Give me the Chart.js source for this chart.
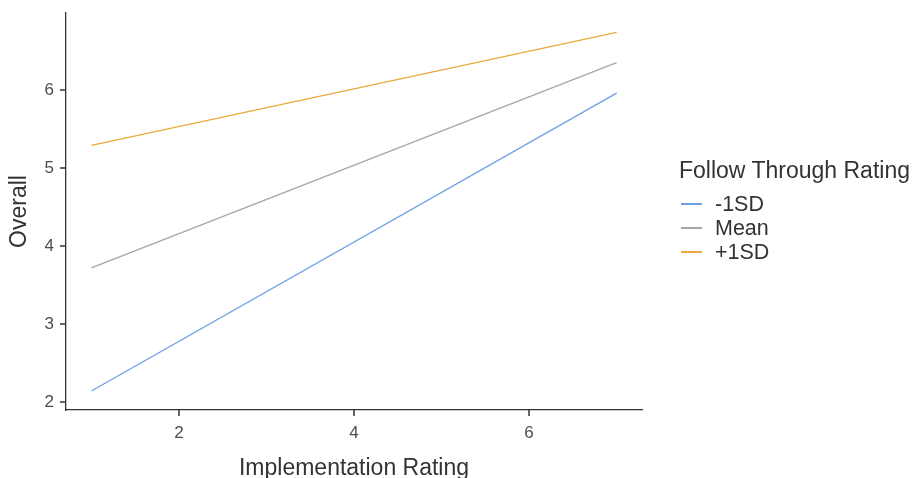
<!DOCTYPE html>
<html>
<head>
<meta charset="utf-8">
<script src="https://cdn.jsdelivr.net/npm/chart.js@4.4.0/dist/chart.umd.min.js"></script>
<style>
  body { margin: 0; background: #fff; }
  #wrap { position: relative; width: 912px; height: 478px; font-family: "Liberation Sans", Arial, sans-serif; }
  #legend { position: absolute; left: 679px; top: 157px; color: #333; white-space: nowrap; }
  #legend .title { font-size: 23px; margin-bottom: 8px; }
  #legend .item { height: 24px; display: flex; align-items: center; font-size: 21.5px; }
  #legend .swatch { width: 21px; height: 2px; margin-left: 2px; margin-right: 13px; }
</style>
</head>
<body>
<div id="wrap">
  <canvas id="myChart" width="912" height="478"></canvas>
  <div id="legend"><div class="title">Follow Through Rating</div></div>
</div>
<script>
// values
var xValues = [1, 7];
var lowSD = [2.14, 5.96];
var meanLine = [3.72, 6.35];
var highSD = [5.29, 6.74];
var seriesNames = ["-1SD", "Mean", "+1SD"];
var seriesColors = ["#6f9fe8", "#a6a6a6", "#e9a93b"];
var xTicks = [2, 4, 6];
var yTicks = [2, 3, 4, 5, 6];

function toPoints(vals) {
  return vals.map(function (v, i) { return { x: xValues[i], y: v }; });
}

var allSeries = [lowSD, meanLine, highSD];
var datasets = allSeries.map(function (s, i) {
  return {
    label: seriesNames[i],
    data: toPoints(s),
    borderColor: seriesColors[i],
    borderWidth: 1.3,
    pointRadius: 0,
    fill: false,
    tension: 0
  };
});

// html legend
var legend = document.getElementById("legend");
seriesNames.forEach(function (n, i) {
  var d = document.createElement("div");
  d.className = "item";
  d.innerHTML = '<span class="swatch" style="background:' + seriesColors[i] + '"></span>' + n;
  legend.appendChild(d);
});

var ctx = document.getElementById("myChart").getContext("2d");
var axisColor = "#333333";

// small outward tick marks, placed via the scales
var tickMarks = {
  id: "tickMarks",
  afterDraw: function (chart) {
    var c = chart.ctx, a = chart.chartArea;
    var xs = chart.scales.x, ys = chart.scales.y;
    c.save();
    c.strokeStyle = axisColor;
    c.lineWidth = 1.5;
    c.beginPath();
    xTicks.forEach(function (v) {
      var px = Math.round(xs.getPixelForValue(v));
      c.moveTo(px, a.bottom);
      c.lineTo(px, a.bottom + 6);
    });
    yTicks.forEach(function (v) {
      var py = Math.round(ys.getPixelForValue(v));
      c.moveTo(a.left, py);
      c.lineTo(a.left - 6, py);
    });
    c.stroke();
    c.restore();
  }
};

function noEdgePadding(scale) {
  scale.paddingTop = 0;
  scale.paddingBottom = 0;
  scale.paddingLeft = 0;
  scale.paddingRight = 0;
}

var myNewChart = new Chart(ctx, {
  type: "line",
  data: { datasets: datasets },
  plugins: [tickMarks],
  options: {
    responsive: false,
    animation: false,
    layout: { padding: { left: 0, top: 13, right: 270, bottom: 0 } },
    plugins: { legend: { display: false }, tooltip: { enabled: false } },
    scales: {
      x: {
        type: "linear",
        min: 0.71,
        max: 7.29,
        afterFit: function (scale) { scale.height = 68; noEdgePadding(scale); },
        afterBuildTicks: function (scale) {
          scale.ticks = xTicks.map(function (v) { return { value: v }; });
        },
        grid: { display: false, tickLength: 5 },
        border: { display: true, color: axisColor, width: 1.3 },
        ticks: { color: "#4d4d4d", font: { family: "Liberation Sans", size: 17 }, padding: 8, maxRotation: 0 },
        title: { display: true, text: "Implementation Rating", color: "#333", font: { family: "Liberation Sans", size: 23 }, padding: { top: 0, bottom: -4 } }
      },
      y: {
        min: 1.897,
        max: 6.987,
        afterFit: function (scale) { scale.width = 66; noEdgePadding(scale); },
        afterBuildTicks: function (scale) {
          scale.ticks = yTicks.map(function (v) { return { value: v }; });
        },
        grid: { display: false, tickLength: 5 },
        border: { display: true, color: axisColor, width: 1.3 },
        ticks: { color: "#4d4d4d", font: { family: "Liberation Sans", size: 17 }, padding: 7 },
        title: { display: true, text: "Overall", color: "#333", font: { family: "Liberation Sans", size: 23 }, padding: { bottom: 0, top: 6 } }
      }
    }
  }
});
</script>
</body>
</html>
